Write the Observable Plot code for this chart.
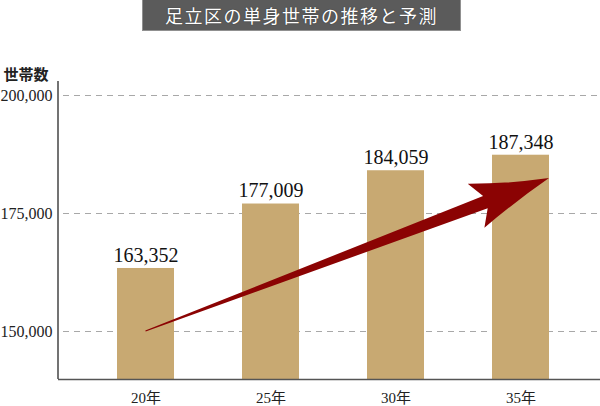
<!DOCTYPE html>
<html><head><meta charset="utf-8">
<script src="https://cdn.jsdelivr.net/npm/d3@7"></script>
<script src="https://cdn.jsdelivr.net/npm/@observablehq/plot@0.6"></script>
<style>
body{margin:0;background:#fff;width:600px;height:406px;overflow:hidden}
#title{position:relative;width:600px;height:31px}
#title div{position:absolute;left:142px;top:0;width:317px;height:30px;background:#5b5b5b;border:1px solid #909090;border-top:none;color:#fff;font:18px "Noto Sans CJK JP",serif;letter-spacing:1.5px;text-align:center;line-height:30px;text-shadow:0 0 1px #222}
#chart svg{display:block}
</style></head><body>
<div id="title"><div id="ttext"></div></div>
<div id="chart"></div>
<script>
const titleText = "足立区の単身世帯の推移と予測";
const yLabel = "世帯数";
const years = ["20年", "25年", "30年", "35年"];
const households = [163352, 177009, 184059, 187348];
const yTicks = [150000, 175000, 200000];
const yDomain = [139830, 202966];
const arrowFrom = {year: "20年", value: 150000};
const arrowTo = {year: "35年", value: 182400};

document.getElementById("ttext").textContent = titleText;
const data = years.map((year, i) => ({year, value: households[i]}));
const fmt = d3.format(",");
const serif = `"Liberation Serif","Noto Sans CJK JP",serif`;

function arrowMark(index, scales, values, dims) {
  const x = scales.x, y = scales.y, bw = x.bandwidth();
  const sx = x(arrowFrom.year) + bw / 2, sy = y(arrowFrom.value);
  const tx = x(arrowTo.year) + bw, ty = y(arrowTo.value);
  const L = Math.hypot(tx - sx, ty - sy);
  const ux = (tx - sx) / L, uy = (ty - sy) / L;
  const nx = -uy, ny = ux;
  const P = (a, b) => [sx + a * ux + b * nx, sy + a * uy + b * ny];
  const pt = p => p[0].toFixed(1) + "," + p[1].toFixed(1);
  const d = "M" + pt(P(0, -0.6)) +
    "L" + pt(P(L - 68, -6.5)) +
    "L" + pt(P(L - 78, -23.5)) +
    "Q" + pt(P(L - 40, -9)) + " " + pt(P(L, 0)) +
    "Q" + pt(P(L - 40, 10)) + " " + pt(P(L - 78, 23.5)) +
    "L" + pt(P(L - 68, 6.5)) +
    "L" + pt(P(0, 0.6)) + "Z";
  const g = d3.create("svg:g");
  g.append("line")
    .attr("x1", dims.marginLeft).attr("x2", dims.marginLeft)
    .attr("y1", dims.marginTop).attr("y2", dims.height - dims.marginBottom)
    .attr("stroke", "#444").attr("stroke-width", 1.5);
  g.append("path").attr("d", d).attr("fill", "#8b0303");
  return g.node();
}

const plot = Plot.plot({
  width: 600, height: 375,
  marginLeft: 58, marginRight: 0, marginTop: 50, marginBottom: 27,
  style: {fontFamily: serif, background: "#fff", color: "#222", overflow: "visible"},
  x: {domain: years, type: "band", paddingInner: 0.545, paddingOuter: 0.4334, align: 0.532, axis: null},
  y: {domain: yDomain, axis: null},
  marks: [
    Plot.ruleY(yTicks, {stroke: "#a8a8a8", strokeDasharray: "6,5", strokeWidth: 1.2, insetLeft: 5}),
    Plot.barY(data, {x: "year", y1: yDomain[0], y2: "value", fill: "#c8a972"}),
    Plot.ruleY([yDomain[0]], {stroke: "#555", strokeWidth: 1.5}),
    arrowMark,
    Plot.text(data, {x: "year", y: "value", text: d => fmt(d.value), dy: -13, fontSize: 20, fill: "#111", stroke: "white", strokeWidth: 3}),
    Plot.axisY(yTicks, {tickSize: 0, tickPadding: 6, tickFormat: fmt, fontSize: 16, label: null}),
    Plot.axisX({tickSize: 0, tickPadding: 13, fontSize: 15, label: null}),
    Plot.text([yLabel], {frameAnchor: "top-left", text: d => d, dx: -55, dy: -12, fontSize: 15, fontWeight: "bold", fontFamily: `"Noto Sans CJK JP",sans-serif`, textAnchor: "start", fill: "#222"})
  ]
});
document.getElementById("chart").appendChild(plot);
</script>
</body></html>
